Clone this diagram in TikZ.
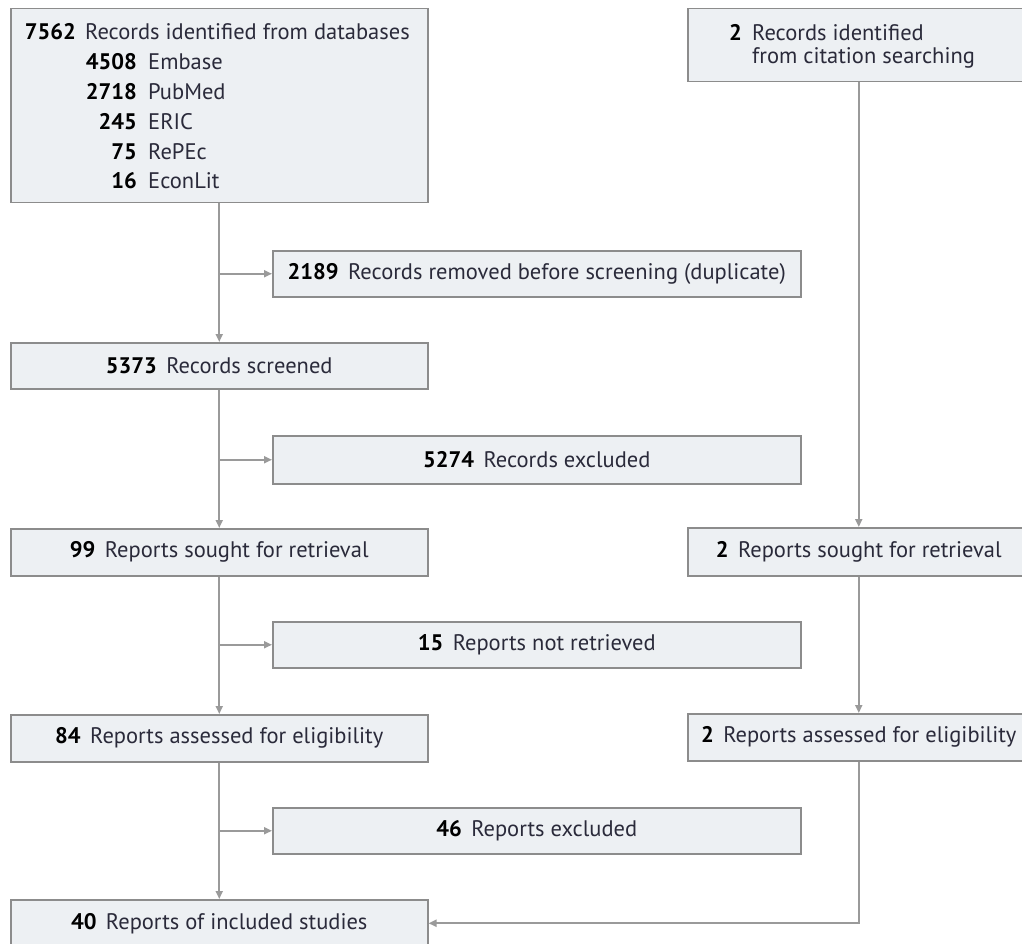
\documentclass[tikz,border=0pt]{standalone}
\usepackage{fontspec}
\setmainfont{PT Sans}
\usetikzlibrary{arrows.meta}
\definecolor{boxfill}{HTML}{EDF0F3}
\definecolor{boxline}{HTML}{8C8C8C}
\definecolor{arrowgray}{HTML}{9A9A9A}
\definecolor{txt}{HTML}{2A2A3A}
\newcommand\numb[1]{\textbf{\color{black}#1}\hspace{0.42em}}
\begin{document}
\begin{tikzpicture}[x=1pt,y=-1pt,
 box/.style={draw=boxline, line width=1.5pt, fill=boxfill, inner sep=0pt, anchor=north west, font=\fontsize{22.5}{26}\selectfont, text=txt},
 lab/.style={font=\fontsize{22.5}{26}\selectfont, text=txt, inner sep=0pt},
 conn/.style={draw=arrowgray, line width=2pt},
 arr/.style={conn, -{Triangle[length=8pt,width=7pt]}}]
\useasboundingbox[fill=white] (0,0) rectangle (1022,944);
% left column
\node[box, minimum width=417pt, minimum height=194pt] (db) at (10,8) {};
\node[lab, anchor=base east] (n0) at (76,40) {\textbf{\color{black}7562}};
\node[lab, anchor=base west] (t0) at (85,40) {Records identified from databases};
\node[lab, anchor=base east] (n1) at (137,70) {\textbf{\color{black}4508}};
\node[lab, anchor=base west] (t1) at (148,70) {Embase};
\node[lab, anchor=base east] (n2) at (137,100) {\textbf{\color{black}2718}};
\node[lab, anchor=base west] (t2) at (148,100) {PubMed};
\node[lab, anchor=base east] (n3) at (137,130) {\textbf{\color{black}245}};
\node[lab, anchor=base west] (t3) at (148,130) {ERIC};
\node[lab, anchor=base east] (n4) at (137,160) {\textbf{\color{black}75}};
\node[lab, anchor=base west] (t4) at (148,160) {RePEc};
\node[lab, anchor=base east] (n5) at (137,189) {\textbf{\color{black}16}};
\node[lab, anchor=base west] (t5) at (148,189) {EconLit};

\node[box, minimum width=417pt, minimum height=46pt] (screened) at (10,342) {\numb{5373}Records screened};
\node[box, minimum width=417pt, minimum height=47pt] (sought) at (10,528) {\numb{99}Reports sought for retrieval};
\node[box, minimum width=417pt, minimum height=47pt] (assess) at (10,714) {\numb{84}Reports assessed for eligibility};
\node[box, minimum width=417pt, minimum height=47pt] (incl) at (10,899) {\numb{40}Reports of included studies};

% middle column
\node[box, minimum width=528pt, minimum height=46pt] (dup) at (272,250) {\numb{2189}Records removed before screening (duplicate)};
\node[box, minimum width=528pt, minimum height=48pt] (excl1) at (272,435) {\numb{5274}Records excluded};
\node[box, minimum width=528pt, minimum height=46pt] (notret) at (272,621) {\numb{15}Reports not retrieved};
\node[box, minimum width=528pt, minimum height=46pt] (excl2) at (272,807) {\numb{46}Reports excluded};

% right column
\node[box, minimum width=342pt, minimum height=73pt] (cit) at (687,8) {};
\node[lab, anchor=base east] (cn) at (742,41) {\textbf{\color{black}2}};
\node[lab, anchor=base west] (ct1) at (752,41) {Records identified};
\node[lab, anchor=base west] (ct2) at (752,64) {from citation searching};
\node[box, minimum width=342pt, minimum height=48pt] (sought2) at (687,527) {\numb{2}Reports sought for retrieval};
\node[box, minimum width=342pt, minimum height=47pt] (assess2) at (687,713) {\numb{2}Reports assessed for eligibility};

% connectors left
\draw[arr] (db.south) -- (screened.north);
\coordinate (b1) at (db.south |- dup.west);
\draw[arr] (b1) -- (dup.west);
\draw[arr] (screened.south) -- (sought.north);
\coordinate (b2) at (screened.south |- excl1.west);
\draw[arr] (b2) -- (excl1.west);
\draw[arr] (sought.south) -- (assess.north);
\coordinate (b3) at (sought.south |- notret.west);
\draw[arr] (b3) -- (notret.west);
\draw[arr] (assess.south) -- (incl.north);
\coordinate (b4) at (assess.south |- excl2.west);
\draw[arr] (b4) -- (excl2.west);
% connectors right
\draw[arr] (cit.south) -- (sought2.north);
\draw[arr] (sought2.south) -- (assess2.north);
\draw[arr] (assess2.south) |- (incl.east);
\end{tikzpicture}
\end{document}
